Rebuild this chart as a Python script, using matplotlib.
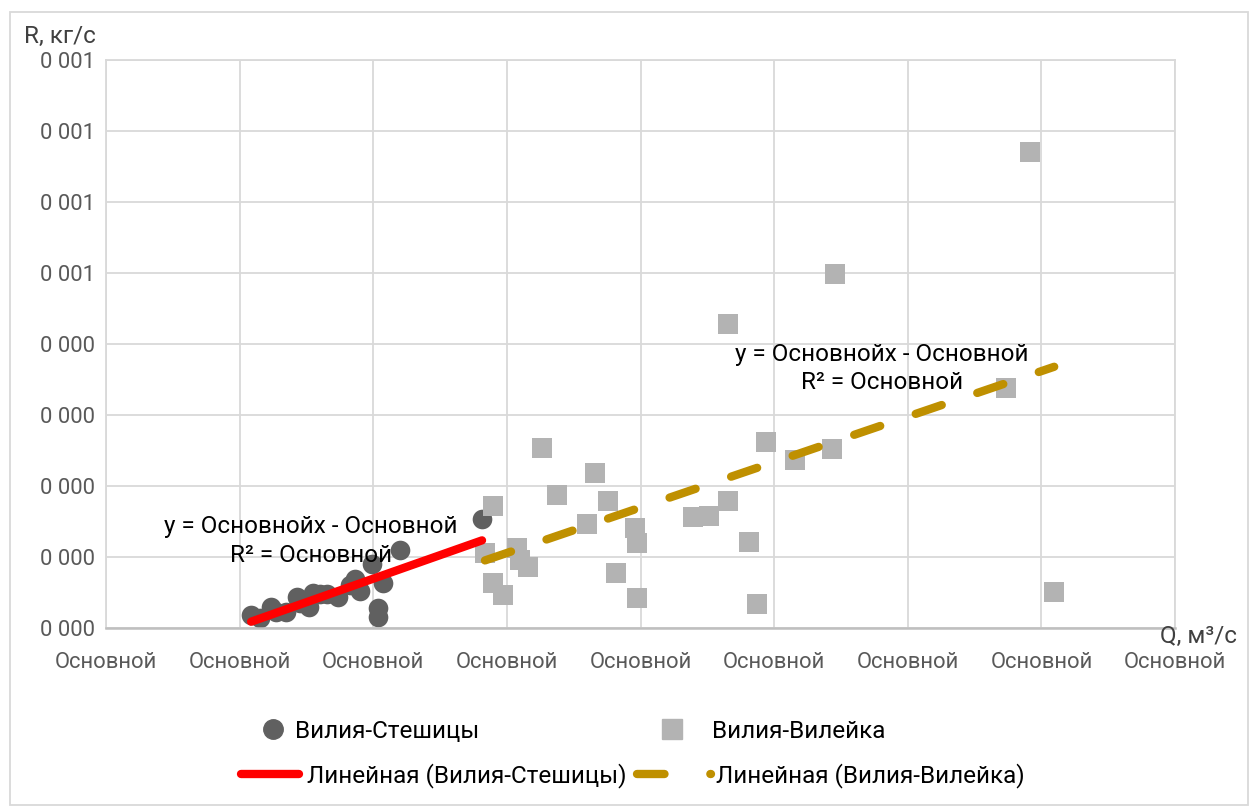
import numpy as np
import matplotlib.pyplot as plt
from matplotlib.lines import Line2D
from matplotlib.patches import Rectangle

# Вилия-Стешицы: расход Q (м3/с) и расход наносов R (кг/с)
q_stesh = [54.3, 57.6, 61.8, 63.6, 67.4, 71.5, 72.6, 76.0, 77.5, 80.1, 82.7,
           86.8, 91.3, 93.2, 95.1, 99.6, 103.7, 101.8, 101.8, 110.0, 140.7]
r_stesh = [1.83e-5, 1.41e-5, 2.96e-5, 2.25e-5, 2.25e-5, 4.37e-5, 3.52e-5,
           2.96e-5, 4.93e-5, 4.79e-5, 4.79e-5, 4.37e-5, 6.06e-5, 6.90e-5,
           5.21e-5, 9.01e-5, 6.34e-5, 2.82e-5, 1.55e-5, 1.099e-4, 1.535e-4]

# Вилия-Вилейка
q_vil = [141.8, 144.8, 144.8, 148.6, 153.8, 154.9, 157.9, 163.2, 168.8, 180.0,
         183.0, 187.9, 190.9, 198.0, 198.7, 198.7, 219.7, 225.7, 232.8, 232.8,
         240.6, 243.6, 247.0, 257.9, 271.7, 272.8, 336.8, 345.8, 354.8]
r_vil = [1.056e-4, 1.718e-4, 6.34e-5, 4.65e-5, 1.127e-4, 9.58e-5, 8.59e-5,
         2.535e-4, 1.873e-4, 1.465e-4, 2.183e-4, 1.789e-4, 7.75e-5, 1.408e-4,
         1.197e-4, 4.23e-5, 1.563e-4, 1.577e-4, 1.789e-4, 4.282e-4, 1.211e-4,
         3.38e-5, 2.620e-4, 2.366e-4, 2.521e-4, 4.986e-4, 3.380e-4, 6.704e-4,
         5.07e-5]

x_ticks = np.arange(0, 401, 50)
x_tick_labels = ["Основной"] * 9
y_ticks = np.arange(0, 0.00081, 0.0001)
y_tick_labels = ["0 000"] * 5 + ["0 001"] * 4

eq_text = "y = Основнойx - Основной\nR² = Основной"

FONT = ["Roboto", "DejaVu Sans"]
plt.rcParams["font.family"] = FONT

W, H = 1253, 810
fig = plt.figure(figsize=(W / 100, H / 100), dpi=100)
fig.patches.append(Rectangle((9.5 / W, 1 - 805 / H), 1238 / W, 793 / H,
                             transform=fig.transFigure, fill=False,
                             edgecolor="#d9d9d9", linewidth=1.3))

ax = fig.add_axes([106 / W, 1 - 628 / H, (1175 - 106) / W, (628 - 60) / H])
ax.set_xlim(0, 400)
ax.set_ylim(0, 0.0008)
ax.set_xticks(x_ticks)
ax.set_xticklabels(x_tick_labels)
ax.set_yticks(y_ticks)
ax.set_yticklabels(y_tick_labels)
ax.tick_params(length=0, labelsize=15.8, labelcolor="#595959")
ax.tick_params(axis="x", pad=17)
ax.tick_params(axis="y", pad=8)
ax.grid(color="#d9d9d9", linewidth=1.3)
ax.set_axisbelow(True)
for side in ["top", "right", "left"]:
    ax.spines[side].set_color("#d9d9d9")
    ax.spines[side].set_linewidth(1.3)
ax.spines["bottom"].set_color("#bfbfbf")
ax.spines["bottom"].set_linewidth(1.8)

ax.scatter(q_stesh, r_stesh, s=200, marker="o", color="#606060",
           linewidths=0, zorder=2)
ax.scatter(q_vil, r_vil, s=200, marker="s", color="#b3b3b3",
           linewidths=0, zorder=3)

# линейные тренды по каждому створу
for q, r, style in [(q_stesh, r_stesh, dict(color="#ff0000", ls="-")),
                    (q_vil, r_vil, dict(color="#bf9000", ls=(0, (3.3, 4.5))))]:
    k, b = np.polyfit(q, r, 1)
    xs = np.array([min(q), max(q)])
    ax.plot(xs, k * xs + b, lw=6, solid_capstyle="round",
            dash_capstyle="round", zorder=4, **style)

ax.text(76.7, 1.225e-4, eq_text, ha="center", va="center", fontsize=17.5,
        linespacing=1.3, zorder=5)
ax.text(290.4, 3.655e-4, eq_text, ha="center", va="center", fontsize=17.5,
        linespacing=1.3, zorder=5)

fig.text(24 / W, 1 - 36 / H, "R, кг/с", ha="left", va="center",
         fontsize=17.5, color="#404040")
fig.text(1237 / W, 1 - 636 / H, "Q, м³/с", ha="right", va="center",
         fontsize=17.5, color="#404040")


def legend_entry(handle, label, x, y, hl, pad):
    fig.legend([handle], [label], loc="center left",
               bbox_to_anchor=(x / W, 1 - y / H), frameon=False,
               borderpad=0, borderaxespad=0, handlelength=hl,
               handletextpad=pad, fontsize=17.5)


legend_entry(Line2D([], [], ls="none", marker="o", ms=14, color="#606060"),
             "Вилия-Стешицы", 258, 731, 1.2, 0.33)
legend_entry(Line2D([], [], ls="none", marker="s", ms=14, color="#b3b3b3"),
             "Вилия-Вилейка", 657, 731, 1.2, 1.05)
legend_entry(Line2D([], [], lw=6, color="#ff0000", solid_capstyle="round"),
             "Линейная (Вилия-Стешицы)", 241, 776, 2.4, 0.3)
legend_entry(Line2D([], [], lw=6, color="#bf9000", ls=(0, (3.3, 5.5)),
                    dash_capstyle="round"),
             "Линейная (Вилия-Вилейка)", 637, 776, 3.05, 0.2)

fig.savefig("out.png", dpi=100)
